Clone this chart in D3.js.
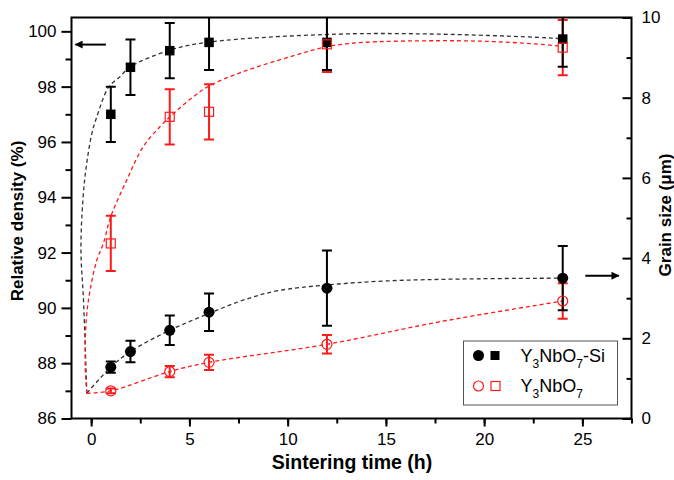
<html>
<head>
  <title>Sintering time</title>
  <script src="https://d3js.org/d3.v7.min.js"></script>
  <style>
    body { margin: 0; background: #fff; }
    text { font-family: Arial, "Liberation Sans", sans-serif; fill: #000; }
  </style>
</head>
<body>
<svg id="chart" width="674" height="480"></svg>
<script>
  // measured points (time in h)
  var times = [1, 2, 4, 6, 12, 24]
  var densSi = [97.0, 98.7, 99.3, 99.6, 99.6, 99.72]
  var densSiErr = [1, 1, 1, 1, 1, 1]
  var timesPure = [1, 4, 6, 12, 24]
  var densPure = [92.33, 96.91, 97.09, 99.53, 99.41]
  var densPureErr = [1, 1, 1, 1, 1]
  var grainSi = [1.28, 1.67, 2.2, 2.65, 3.25, 3.5]
  var grainSiErr = [0.14, 0.27, 0.37, 0.47, 0.94, 0.8]
  var grainPure = [0.69, 1.17, 1.4, 1.85, 2.93]
  var grainPureErr = [0.06, 0.14, 0.19, 0.23, 0.44]

  // fitted guide lines: [t, value]
  var fitDensSi = [[-0.22, 86.91], [-0.39, 90.28], [-0.52, 92.09], [-0.42, 93.9], [-0.25, 95.1],
    [0.04, 96.32], [0.29, 96.91], [0.88, 97.97], [1.47, 98.36], [1.98, 98.71], [4.01, 99.32],
    [6.0, 99.61], [12.64, 99.9], [18.2, 99.89], [23.64, 99.75], [24, 99.73]]
  var fitDensPure = [[-0.22, 86.91], [-0.3, 87.87], [-0.25, 89.56], [-0.05, 90.65], [0.29, 91.73],
    [0.62, 92.33], [1.0, 93.3], [1.81, 94.62], [2.65, 95.83], [3.5, 96.55], [4.01, 96.91],
    [5.19, 97.63], [5.99, 98.02], [7.73, 98.54], [10.27, 99.11], [11.96, 99.44], [13.65, 99.59],
    [17.72, 99.66], [20.76, 99.62], [23.64, 99.48], [24, 99.43]]
  var fitGrainSi = [[-0.22, 0.63], [1, 1.28], [2, 1.67], [4, 2.2], [6, 2.62], [7.73, 2.95],
    [9.43, 3.18], [12, 3.33], [15, 3.43], [19, 3.48], [24, 3.5]]
  var fitGrainPure = [[-0.22, 0.63], [1, 0.69], [4, 1.17], [6, 1.4], [12, 1.85], [17.72, 2.41],
    [24, 2.93]]

  var xTicks = [0, 5, 10, 15, 20, 25]
  var yLeftTicks = [86, 88, 90, 92, 94, 96, 98, 100]
  var yRightTicks = [0, 2, 4, 6, 8, 10]

  var svg = d3.select('#chart')
  var margin = { top: 17.5, right: 42.5, bottom: 61.5, left: 71.5 }
  var w = 674 - margin.left - margin.right
  var h = 480 - margin.top - margin.bottom
  var g = svg.append('g')
    .attr('transform', 'translate(' + margin.left + ',' + margin.top + ')')

  var x = d3.scaleLinear().domain([-1, 27.5]).range([0, w])
  var yL = d3.scaleLinear().domain([86, 100.5]).range([h, 0])
  var yR = d3.scaleLinear().domain([0, 10]).range([h, 0])

  var RED = '#ff1a1a'

  g.append('clipPath').attr('id', 'clip')
    .append('rect').attr('x', 0).attr('y', 0).attr('width', w).attr('height', h)
  var plot = g.append('g').attr('clip-path', 'url(#clip)')

  // fit lines
  function fitLine(pts, ys, color) {
    var line = d3.line()
      .x(function (d) { return x(d[0]) })
      .y(function (d) { return ys(d[1]) })
      .curve(d3.curveCatmullRom.alpha(0.5))
    plot.append('path').datum(pts)
      .attr('d', line)
      .attr('fill', 'none')
      .attr('stroke', color)
      .attr('stroke-width', 1.3)
      .attr('stroke-dasharray', '4,3')
  }
  fitLine(fitDensSi, yL, '#333')
  fitLine(fitDensPure, yL, RED)
  fitLine(fitGrainSi, yR, '#333')
  fitLine(fitGrainPure, yR, RED)

  // error bars
  function errBars(ts, vals, errs, ys, color) {
    var eg = plot.append('g').attr('stroke', color).attr('stroke-width', 2)
    ts.forEach(function (t, i) {
      var cx = x(t), top = ys(vals[i] + errs[i]), bot = ys(vals[i] - errs[i])
      eg.append('line').attr('x1', cx).attr('x2', cx).attr('y1', top).attr('y2', bot)
      eg.append('line').attr('x1', cx - 5).attr('x2', cx + 5).attr('y1', top).attr('y2', top)
      eg.append('line').attr('x1', cx - 5).attr('x2', cx + 5).attr('y1', bot).attr('y2', bot)
    })
  }
  errBars(timesPure, densPure, densPureErr, yL, RED)
  errBars(times, densSi, densSiErr, yL, '#000')
  errBars(timesPure, grainPure, grainPureErr, yR, RED)
  errBars(times, grainSi, grainSiErr, yR, '#000')

  // markers
  plot.selectAll('.sqSi').data(times).enter().append('rect')
    .attr('x', function (d) { return x(d) - 4.75 })
    .attr('y', function (d, i) { return yL(densSi[i]) - 4.75 })
    .attr('width', 9.5).attr('height', 9.5).attr('fill', '#000')
  plot.selectAll('.sqPure').data(timesPure).enter().append('rect')
    .attr('x', function (d) { return x(d) - 4.5 })
    .attr('y', function (d, i) { return yL(densPure[i]) - 4.5 })
    .attr('width', 9).attr('height', 9)
    .attr('fill', 'none').attr('stroke', RED).attr('stroke-width', 1.2)
  plot.selectAll('.ciSi').data(times).enter().append('circle')
    .attr('cx', function (d) { return x(d) })
    .attr('cy', function (d, i) { return yR(grainSi[i]) })
    .attr('r', 5.5).attr('fill', '#000')
  plot.selectAll('.ciPure').data(timesPure).enter().append('circle')
    .attr('cx', function (d) { return x(d) })
    .attr('cy', function (d, i) { return yR(grainPure[i]) })
    .attr('r', 5).attr('fill', 'none').attr('stroke', RED).attr('stroke-width', 1.2)

  // axes
  var xAxis = d3.axisBottom(x).tickValues(xTicks).tickSize(8).tickPadding(6)
  var xMinor = d3.axisBottom(x).tickValues(d3.range(0, 27.6, 2.5)).tickSize(5).tickFormat('')
  var yAxisL = d3.axisLeft(yL).tickValues(yLeftTicks).tickSize(10).tickPadding(5)
  var yMinorL = d3.axisLeft(yL).tickValues(d3.range(87, 100, 2)).tickSize(6).tickFormat('')
  var yAxisR = d3.axisRight(yR).tickValues(yRightTicks).tickSize(-9).tickPadding(10)
  var yMinorR = d3.axisRight(yR).tickValues(d3.range(1, 10, 2)).tickSize(-5).tickFormat('')

  function styleAxis(sel) {
    sel.select('.domain').remove()
    sel.selectAll('line').attr('stroke', '#000').attr('stroke-width', 2)
    sel.selectAll('text').style('font-size', '17px').attr('fill', '#000')
      .style('font-family', 'Arial, "Liberation Sans", sans-serif')
  }
  g.append('g').attr('transform', 'translate(0,' + h + ')').call(xMinor).call(styleAxis)
  g.append('g').attr('transform', 'translate(0,' + h + ')').call(xAxis).call(styleAxis)
  g.append('g').call(yMinorL).call(styleAxis)
  g.append('g').call(yAxisL).call(styleAxis)
  g.append('g').attr('transform', 'translate(' + w + ',0)').call(yMinorR).call(styleAxis)
  g.append('g').attr('transform', 'translate(' + w + ',0)').call(yAxisR).call(styleAxis)

  // frame
  g.append('rect').attr('width', w).attr('height', h)
    .attr('fill', 'none').attr('stroke', '#000').attr('stroke-width', 2)

  // axis titles
  g.append('text').attr('x', w / 2 + 0.5).attr('y', h + 50)
    .attr('text-anchor', 'middle').style('font-size', '19.5px').style('font-weight', 'bold')
    .text('Sintering time (h)')
  g.append('text').attr('transform', 'translate(' + (-49) + ',' + (h / 2 + 3) + ') rotate(-90)')
    .attr('text-anchor', 'middle').style('font-size', '17px').style('font-weight', 'bold')
    .text('Relative density (%)')
  g.append('text').attr('transform', 'translate(' + (w + 39) + ',' + (h / 2 - 3) + ') rotate(-90)')
    .attr('text-anchor', 'middle').style('font-size', '17px').style('font-weight', 'bold')
    .text('Grain size (μm)')

  // arrows
  svg.append('defs').append('marker').attr('id', 'head')
    .attr('viewBox', '0 0 10 10').attr('refX', 9).attr('refY', 5)
    .attr('markerWidth', 6).attr('markerHeight', 4).attr('orient', 'auto')
    .attr('markerUnits', 'strokeWidth')
    .append('path').attr('d', 'M0,0 L10,5 L0,10 z').attr('fill', '#000')
  g.append('line').attr('x1', x(0.75)).attr('x2', x(-0.8))
    .attr('y1', yL(99.52)).attr('y2', yL(99.52))
    .attr('stroke', '#000').attr('stroke-width', 2).attr('marker-end', 'url(#head)')
  g.append('line').attr('x1', x(25.15)).attr('x2', x(26.85))
    .attr('y1', yR(3.56)).attr('y2', yR(3.56))
    .attr('stroke', '#000').attr('stroke-width', 2).attr('marker-end', 'url(#head)')

  // legend
  var lg = svg.append('g').attr('transform', 'translate(463.5,341)')
  lg.append('rect').attr('width', 154).attr('height', 64)
    .attr('fill', '#fff').attr('stroke', '#555').attr('stroke-width', 1)
  lg.append('circle').attr('cx', 15).attr('cy', 14.5).attr('r', 5.5).attr('fill', '#000')
  lg.append('rect').attr('x', 27).attr('y', 10).attr('width', 9).attr('height', 9).attr('fill', '#000')
  lg.append('circle').attr('cx', 15).attr('cy', 45).attr('r', 5)
    .attr('fill', 'none').attr('stroke', RED).attr('stroke-width', 1.2)
  lg.append('rect').attr('x', 27.5).attr('y', 40.5).attr('width', 9).attr('height', 9)
    .attr('fill', 'none').attr('stroke', RED).attr('stroke-width', 1.2)
  function formula(ty, suffix) {
    var t = lg.append('text').attr('x', 57).attr('y', ty).style('font-size', '18px')
    t.append('tspan').text('Y')
    t.append('tspan').attr('dy', 6).style('font-size', '12px').text('3')
    t.append('tspan').attr('dy', -6).text('NbO')
    t.append('tspan').attr('dy', 6).style('font-size', '12px').text('7')
    if (suffix) t.append('tspan').attr('dy', -6).text(suffix)
  }
  formula(20.5, '-Si')
  formula(51, '')
</script>
</body>
</html>
